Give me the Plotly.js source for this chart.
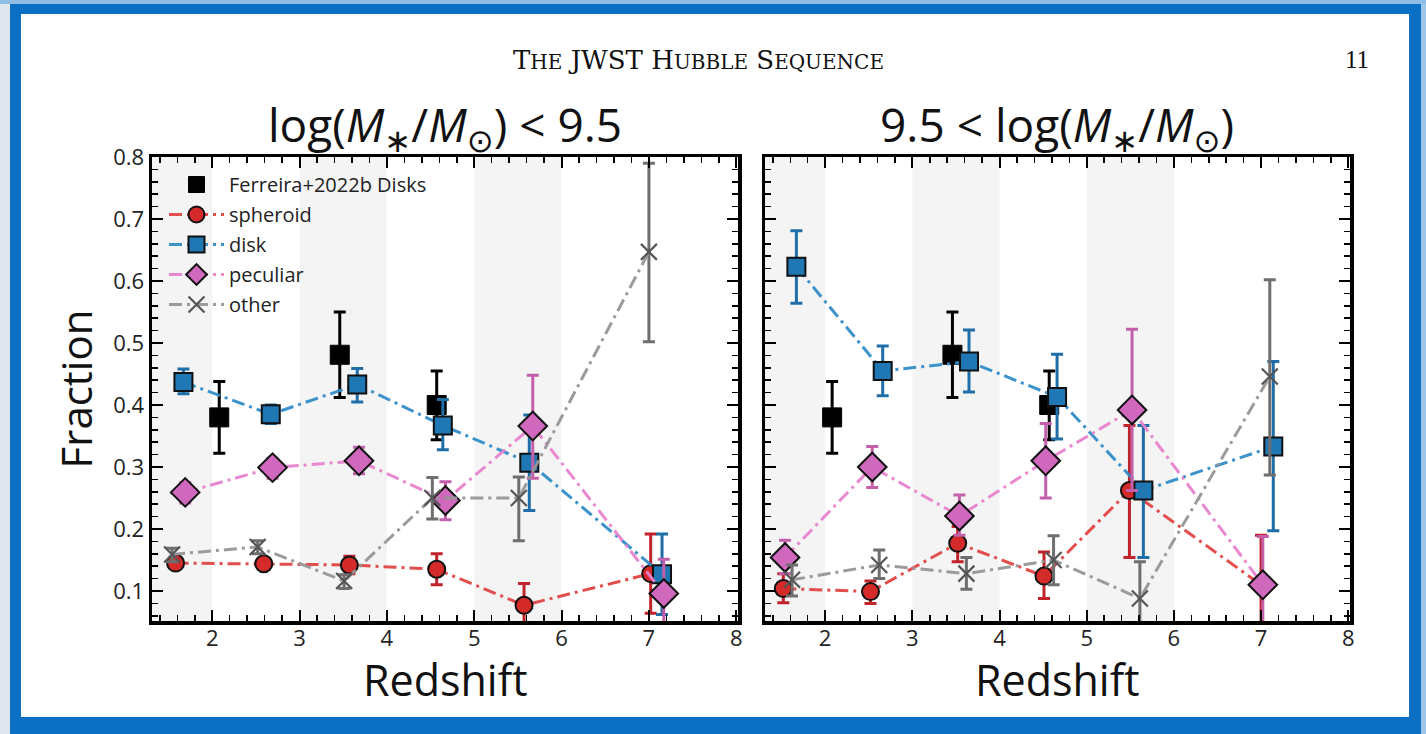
<!DOCTYPE html>
<html>
<head>
<meta charset="utf-8">
<script src="https://cdn.plot.ly/plotly-3.0.1.min.js"></script>
<style>
html,body{margin:0;padding:0;background:#ffffff;}
#chart{width:1426px;height:734px;}
</style>
</head>
<body>
<div id="chart"></div>
<script>
// ---------- data ----------
// Ferreira+2022b disks (same in both panels)
const ferZ = [2.08, 3.46, 4.57];
const ferF = [0.380, 0.481, 0.400];
const ferUp = [0.058, 0.069, 0.055];
const ferDn = [0.058, 0.069, 0.056];

// Left panel: log(M*/Msun) < 9.5
const lowSphZ = [1.58, 2.59, 3.57, 4.57, 5.57, 7.02];
const lowSphF = [0.145, 0.144, 0.142, 0.135, 0.077, 0.128];
const lowSphUp = [0.008, 0.008, 0.014, 0.025, 0.035, 0.064];
const lowSphDn = [0.008, 0.008, 0.014, 0.025, 0.035, 0.064];

const lowDiskZ = [1.67, 2.67, 3.66, 4.64, 5.63, 7.15];
const lowDiskF = [0.437, 0.385, 0.433, 0.367, 0.307, 0.127];
const lowDiskUp = [0.021, 0.015, 0.026, 0.042, 0.077, 0.065];
const lowDiskDn = [0.019, 0.015, 0.028, 0.039, 0.077, 0.065];

const lowPecZ = [1.69, 2.69, 3.68, 4.67, 5.67, 7.17];
const lowPecF = [0.259, 0.299, 0.310, 0.246, 0.366, 0.096];
const lowPecUp = [0.016, 0.015, 0.022, 0.030, 0.082, 0.055];
const lowPecDn = [0.017, 0.017, 0.021, 0.031, 0.084, 0.055];

const lowOthZ = [1.54, 2.52, 3.51, 4.52, 5.51, 7.00];
const lowOthF = [0.159, 0.171, 0.116, 0.250, 0.250, 0.647];
const lowOthUp = [0.010, 0.010, 0.010, 0.033, 0.034, 0.143];
const lowOthDn = [0.012, 0.011, 0.012, 0.034, 0.069, 0.145];

// Right panel: 9.5 < log(M*/Msun)
const highSphZ = [1.52, 2.52, 3.52, 4.51, 5.49, 7.00];
const highSphF = [0.104, 0.099, 0.177, 0.124, 0.262, 0.110];
const highSphUp = [0.024, 0.017, 0.027, 0.039, 0.105, 0.080];
const highSphDn = [0.023, 0.019, 0.030, 0.036, 0.108, 0.080];

const highDiskZ = [1.67, 2.66, 3.65, 4.66, 5.65, 7.14];
const highDiskF = [0.623, 0.455, 0.470, 0.413, 0.262, 0.333];
const highDiskUp = [0.058, 0.040, 0.051, 0.069, 0.105, 0.137];
const highDiskDn = [0.059, 0.040, 0.049, 0.068, 0.108, 0.136];

const highPecZ = [1.54, 2.54, 3.54, 4.53, 5.52, 7.02];
const highPecF = [0.154, 0.300, 0.221, 0.310, 0.392, 0.110];
const highPecUp = [0.028, 0.033, 0.034, 0.060, 0.130, 0.078];
const highPecDn = [0.026, 0.033, 0.031, 0.060, 0.130, 0.078];

const highOthZ = [1.62, 2.62, 3.62, 4.62, 5.61, 7.10];
const highOthF = [0.118, 0.142, 0.128, 0.150, 0.088, 0.446];
const highOthUp = [0.024, 0.024, 0.026, 0.039, 0.059, 0.156];
const highOthDn = [0.026, 0.022, 0.025, 0.040, 0.059, 0.159];

const yTicks = [0.1, 0.2, 0.3, 0.4, 0.5, 0.6, 0.7, 0.8];
const yTickLabels = ['0.1', '0.2', '0.3', '0.4', '0.5', '0.6', '0.7', '0.8'];
const xTicks = [2, 3, 4, 5, 6, 7, 8];
const xTickLabels = ['2', '3', '4', '5', '6', '7', '8'];
const shadeBands = [[1.31, 2], [3, 4], [5, 6]];

// ---------- styles ----------
const FONT = "Open Sans, DejaVu Sans, sans-serif";
const DASH = '13px,5px,3px,5px';
const styles = {
  spheroid: {name:'spheroid', line:'rgba(224,62,62,0.92)', marker:'#d42a2a', err:'#c0232b', symbol:'circle', size:17},
  disk:     {name:'disk', line:'rgba(50,140,200,0.95)', marker:'#1f77b4', err:'#1f6ea8', symbol:'square', size:18},
  peculiar: {name:'peculiar', line:'rgba(232,130,205,0.95)', marker:'#d068bd', err:'#c35fab', symbol:'diamond', size:22},
  other:    {name:'other', line:'rgba(150,150,150,0.95)', marker:'#555555', err:'#6f6f6f', symbol:'x-thin-open', size:16}
};

function series(key, z, f, up, dn, xa, ya, showleg) {
  const s = styles[key];
  const isX = s.symbol === 'x-thin-open';
  return {
    type:'scatter', mode:'lines+markers', x:z, y:f, xaxis:xa, yaxis:ya,
    name:s.name, legendgroup:key, showlegend:showleg,
    line:{color:s.line, width:3, dash:DASH},
    marker:{symbol:s.symbol, size:s.size, color:s.marker,
            line:{color: isX ? '#444444' : '#111111', width: isX ? 2.2 : 2}},
    error_y:{type:'data', symmetric:false, array:up, arrayminus:dn,
             color:s.err, thickness:3, width:6}
  };
}
function ferreira(xa, ya, showleg) {
  return {
    type:'scatter', mode:'markers', x:ferZ, y:ferF, xaxis:xa, yaxis:ya,
    name:'Ferreira+2022b Disks', legendgroup:'fer', showlegend:showleg,
    marker:{symbol:'square', size:19, color:'#000000', line:{color:'#000', width:1}},
    error_y:{type:'data', symmetric:false, array:ferUp, arrayminus:ferDn,
             color:'#000000', thickness:3, width:6}
  };
}

const data = [
  ferreira('x','y',true),
  series('spheroid', lowSphZ, lowSphF, lowSphUp, lowSphDn, 'x','y',true),
  series('disk', lowDiskZ, lowDiskF, lowDiskUp, lowDiskDn, 'x','y',true),
  series('peculiar', lowPecZ, lowPecF, lowPecUp, lowPecDn, 'x','y',true),
  series('other', lowOthZ, lowOthF, lowOthUp, lowOthDn, 'x','y',true),
  ferreira('x2','y2',false),
  series('spheroid', highSphZ, highSphF, highSphUp, highSphDn, 'x2','y2',false),
  series('disk', highDiskZ, highDiskF, highDiskUp, highDiskDn, 'x2','y2',false),
  series('peculiar', highPecZ, highPecF, highPecUp, highPecDn, 'x2','y2',false),
  series('other', highOthZ, highOthF, highOthUp, highOthDn, 'x2','y2',false)
];

// ---------- layout ----------
const W = 1426, H = 734;
const px = v => v / W;
const py = v => 1 - v / H;

function xAxis(domain, anchor) {
  return {
    domain: domain, anchor: anchor, range:[1.31, 8.02],
    tickvals: xTicks, ticktext: xTickLabels, ticklabelstandoff:-5,
    ticks:'inside', ticklen:11, tickwidth:2, tickcolor:'#000',
    minor:{dtick:0.2, tick0:0, ticks:'inside', ticklen:6, tickwidth:1.5, tickcolor:'#000'},
    showline:true, linewidth:3.5, linecolor:'#000', mirror:'allticks',
    showgrid:false, zeroline:false,
    tickfont:{family:FONT, size:22, color:'#222'}
  };
}
function yAxis(anchor, labels, withTitle) {
  const a = {
    domain:[py(621), py(157)], anchor: anchor, range:[0.0516, 0.8],
    tickvals: yTicks, showticklabels: labels,
    ticks:'inside', ticklen:11, tickwidth:2, tickcolor:'#000',
    minor:{dtick:0.02, tick0:0, ticks:'inside', ticklen:6, tickwidth:1.5, tickcolor:'#000'},
    showline:true, linewidth:3.5, linecolor:'#000', mirror:'allticks',
    showgrid:false, zeroline:false,
    tickfont:{family:FONT, size:22, color:'#222'}
  };
  if (labels) a.ticktext = yTickLabels;
  if (withTitle) a.title = {text:'Fraction', font:{family:FONT, size:42, color:'#111'}, standoff:8};
  return a;
}

const shapes = [
  // blue page frame
  {type:'rect', xref:'paper', yref:'paper', x0:0, x1:1, y0:0, y1:1,
   fillcolor:'#0b6fc4', line:{width:0}, layer:'below'},
  {type:'rect', xref:'paper', yref:'paper', x0:0, x1:px(10), y0:0, y1:1,
   fillcolor:'#dfe6ee', line:{width:0}, layer:'below'},
  {type:'rect', xref:'paper', yref:'paper', x0:px(1421), x1:1, y0:0, y1:1,
   fillcolor:'#9cc6ea', line:{width:0}, layer:'below'},
  {type:'rect', xref:'paper', yref:'paper', x0:0, x1:1, y0:py(4), y1:1,
   fillcolor:'#8fbde6', line:{width:0}, layer:'below'},
  {type:'rect', xref:'paper', yref:'paper', x0:px(21), x1:px(1409), y0:py(717), y1:py(14),
   fillcolor:'#ffffff', line:{width:0}, layer:'below'}
];
['x','x2'].forEach((xr, i) => {
  const yr = i === 0 ? 'y domain' : 'y2 domain';
  shadeBands.forEach(b => shapes.push({
    type:'rect', xref:xr, yref:yr, x0:b[0], x1:b[1], y0:0, y1:1,
    fillcolor:'#f4f4f4', line:{width:0}, layer:'below'
  }));
});

const sc = s => '<span style="font-size:20px">' + s + '</span>';
const headerText = 'T' + sc('HE') + ' JWST H' + sc('UBBLE') + ' S' + sc('EQUENCE');

const annotations = [
  {text:headerText, xref:'paper', yref:'paper', x:px(698), y:py(60), xanchor:'center', yanchor:'middle',
   showarrow:false, font:{family:'DejaVu Serif, Liberation Serif, serif', size:26, color:'#111'}},
  {text:'11', xref:'paper', yref:'paper', x:px(1357), y:py(60), xanchor:'center', yanchor:'middle',
   showarrow:false, font:{family:'Liberation Serif, DejaVu Serif, serif', size:25, color:'#111'}},
  {text:'log(<i>M</i><sub>∗</sub>/<i>M</i><sub>⊙</sub>) < 9.5', xref:'paper', yref:'paper',
   x:px(445), y:py(127), xanchor:'center', yanchor:'middle', showarrow:false,
   font:{family:FONT, size:46, color:'#111'}},
  {text:'9.5 < log(<i>M</i><sub>∗</sub>/<i>M</i><sub>⊙</sub>)', xref:'paper', yref:'paper',
   x:px(1057), y:py(127), xanchor:'center', yanchor:'middle', showarrow:false,
   font:{family:FONT, size:46, color:'#111'}},
  {text:'Redshift', xref:'paper', yref:'paper', x:px(445), y:py(679), xanchor:'center', yanchor:'middle',
   showarrow:false, font:{family:FONT, size:43, color:'#111'}},
  {text:'Redshift', xref:'paper', yref:'paper', x:px(1057), y:py(679), xanchor:'center', yanchor:'middle',
   showarrow:false, font:{family:FONT, size:43, color:'#111'}}
];

const layout = {
  width:W, height:H,
  margin:{l:0, r:0, t:0, b:0, pad:0},
  paper_bgcolor:'#ffffff', plot_bgcolor:'rgba(0,0,0,0)',
  showlegend:true,
  legend:{x:px(164), y:py(165), xanchor:'left', yanchor:'top', bgcolor:'rgba(0,0,0,0)',
          font:{family:FONT, size:20, color:'#222'}, tracegroupgap:1, itemwidth:55,
          traceorder:'grouped'},
  xaxis: xAxis([px(152), px(738)], 'y'),
  yaxis: yAxis('x', true, true),
  xaxis2: xAxis([px(765), px(1350)], 'y2'),
  yaxis2: yAxis('x2', false, false),
  shapes: shapes,
  annotations: annotations
};

Plotly.newPlot('chart', data, layout, {displayModeBar:false, staticPlot:true});
</script>
</body>
</html>
